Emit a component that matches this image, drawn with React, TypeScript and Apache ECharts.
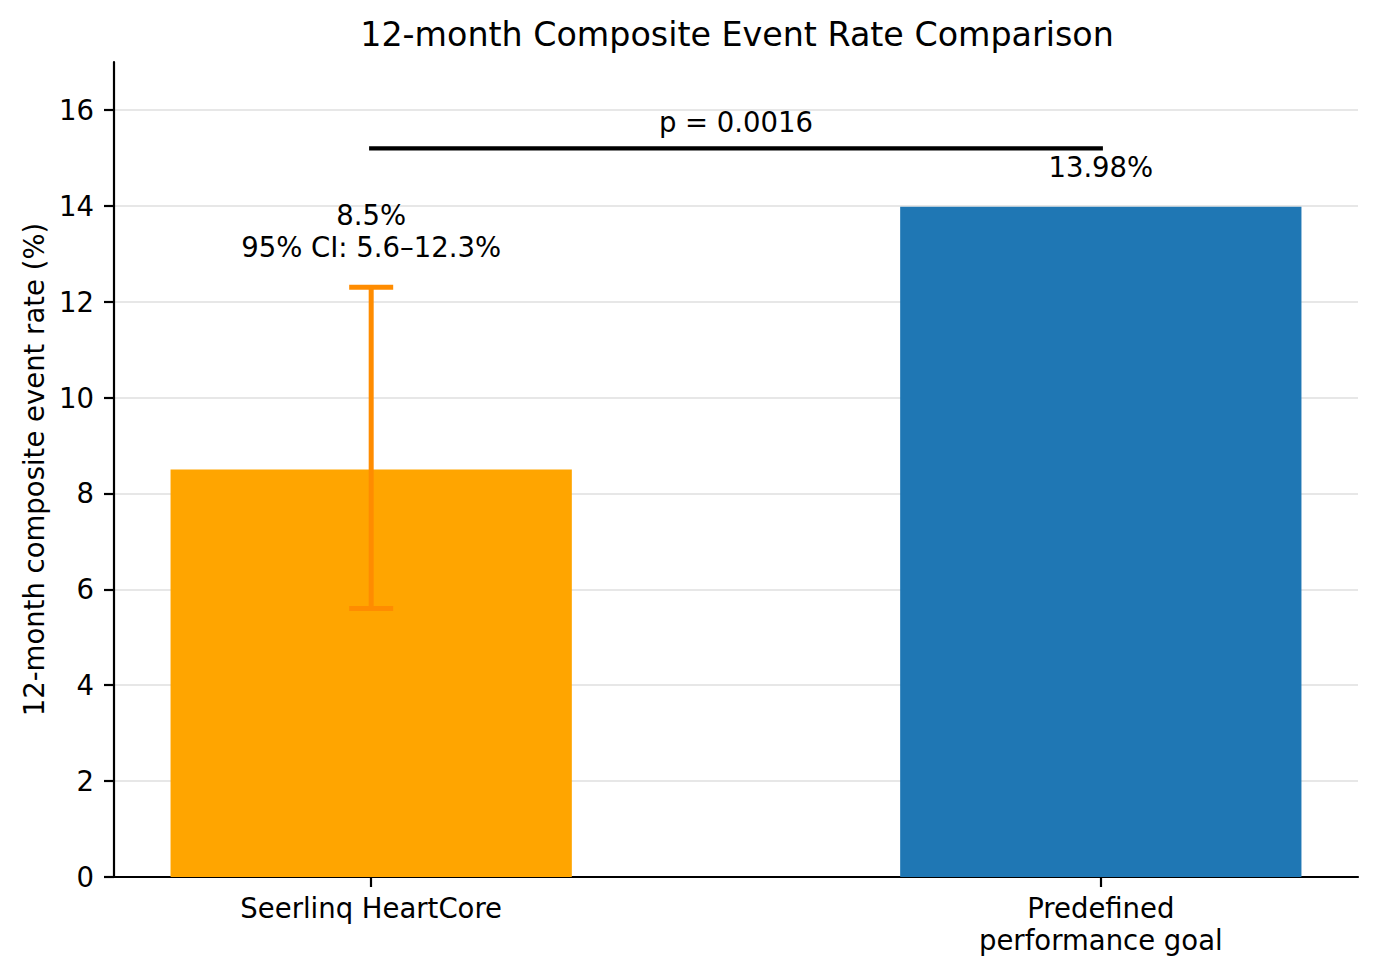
import React, { useEffect, useRef } from "react";
import * as echarts from "echarts";

// ---- data ----
const categories = ["Seerlinq HeartCore", "Predefined\nperformance goal"];
const categoryPositions = [0, 1];
const rates = [8.5, 13.98];
const barColors = ["#ffa500", "#1f77b4"];
const ciLower = [5.6];
const ciUpper = [12.3];
const ciLabels = ["8.5%\n95% CI: 5.6–12.3%"];
const goalLabels = ["13.98%"];
const pValueText = "p = 0.0016";
const sigLineY = 15.2;
const yTicks = [0, 2, 4, 6, 8, 10, 12, 14, 16];
const titleText = "12-month Composite Event Rate Comparison";
const yAxisName = "12-month composite event rate (%)";

const FONT = "DejaVu Sans";
const FS = 27.5;
const BAR_HALF = 0.275;

export default function App() {
  const ref = useRef<HTMLDivElement>(null);

  useEffect(() => {
    document.body.style.margin = "0";
    if (!ref.current) return;
    const chart = echarts.init(ref.current, undefined, { renderer: "svg" });

    const axisLineStyle = { color: "#000", width: 2.2 };

    const option: any = {
      animation: false,
      backgroundColor: "#fff",
      title: {
        text: titleText,
        left: 732,
        top: 13,
        textAlign: "center",
        textStyle: { fontSize: 33.3, fontWeight: "normal", color: "#000", fontFamily: FONT },
      },
      grid: { left: 114, right: 19, top: 62, bottom: 99, containLabel: false },
      xAxis: {
        type: "value",
        min: -0.3525,
        max: 1.3525,
        splitLine: { show: false },
        axisLine: { show: true, onZero: false, lineStyle: axisLineStyle },
        axisTick: { show: true, customValues: categoryPositions, length: 10, lineStyle: axisLineStyle },
        axisLabel: {
          show: true,
          customValues: categoryPositions,
          formatter: (v: number) => categories[Math.round(v)] ?? "",
          margin: 15,
          fontSize: FS,
          lineHeight: 32,
          color: "#000",
          fontFamily: FONT,
          align: "center",
        },
      },
      yAxis: {
        type: "value",
        min: 0,
        max: 17,
        name: yAxisName,
        nameLocation: "middle",
        nameGap: 66,
        nameRotate: 90,
        nameTextStyle: { fontSize: FS, color: "#000", fontFamily: FONT },
        axisLine: { show: true, onZero: false, lineStyle: axisLineStyle },
        axisTick: { show: true, customValues: yTicks, length: 10, lineStyle: axisLineStyle },
        axisLabel: {
          show: true,
          customValues: yTicks,
          margin: 20,
          fontSize: FS,
          color: "#000",
          fontFamily: FONT,
        },
        splitLine: { show: true, lineStyle: { color: "#e7e7e7", width: 2.2 } },
      },
      series: [
        {
          type: "custom",
          z: 2,
          data: categoryPositions.map((x, i) => [x, rates[i]]),
          encode: { x: 0, y: 1 },
          renderItem: (params: any, api: any) => {
            const x = api.value(0);
            const y = api.value(1);
            const p0 = api.coord([x - BAR_HALF, 0]);
            const p1 = api.coord([x + BAR_HALF, y]);
            return {
              type: "rect",
              shape: { x: p0[0], y: p1[1], width: p1[0] - p0[0], height: p0[1] - p1[1] },
              style: { fill: barColors[params.dataIndex] },
            };
          },
        },
        {
          type: "custom",
          z: 3,
          data: ciLower.map((lo, i) => [categoryPositions[i], lo, ciUpper[i]]),
          encode: { x: 0, y: [1, 2] },
          renderItem: (params: any, api: any) => {
            const x = api.value(0);
            const lo = api.coord([x, api.value(1)]);
            const hi = api.coord([x, api.value(2)]);
            const cap = 22;
            const st = { stroke: "#ff8c00", lineWidth: 5 };
            return {
              type: "group",
              children: [
                { type: "line", shape: { x1: lo[0], y1: lo[1], x2: hi[0], y2: hi[1] }, style: st },
                { type: "line", shape: { x1: lo[0] - cap, y1: lo[1], x2: lo[0] + cap, y2: lo[1] }, style: st },
                { type: "line", shape: { x1: hi[0] - cap, y1: hi[1], x2: hi[0] + cap, y2: hi[1] }, style: st },
              ],
            };
          },
        },
        {
          type: "custom",
          z: 4,
          data: [
            [categoryPositions[0], ciUpper[0] + 0.5, ciLabels[0]],
            [categoryPositions[1], rates[1] + 0.5, goalLabels[0]],
          ],
          encode: { x: 0, y: 1 },
          renderItem: (params: any, api: any) => {
            const p = api.coord([api.value(0), api.value(1)]);
            const txt = params.dataIndex === 0 ? ciLabels[0] : goalLabels[0];
            return {
              type: "text",
              x: p[0],
              y: p[1],
              style: {
                text: txt,
                fill: "#000",
                fontSize: FS,
                fontFamily: FONT,
                lineHeight: 32,
                align: "center",
                verticalAlign: "bottom",
              },
            };
          },
        },
        {
          type: "custom",
          z: 4,
          data: [[categoryPositions[0], categoryPositions[1], sigLineY]],
          encode: { x: [0, 1], y: 2 },
          renderItem: (params: any, api: any) => {
            const a = api.coord([api.value(0), api.value(2)]);
            const b = api.coord([api.value(1), api.value(2)]);
            const t = api.coord([(api.value(0) + api.value(1)) / 2, api.value(2) + 0.25]);
            return {
              type: "group",
              children: [
                {
                  type: "line",
                  shape: { x1: a[0], y1: a[1], x2: b[0], y2: b[1] },
                  style: { stroke: "#000", lineWidth: 4.2, lineCap: "square" },
                },
                {
                  type: "text",
                  x: t[0],
                  y: t[1],
                  style: {
                    text: pValueText,
                    fill: "#000",
                    fontSize: FS,
                    fontFamily: FONT,
                    align: "center",
                    verticalAlign: "bottom",
                  },
                },
              ],
            };
          },
        },
      ],
    };

    chart.setOption(option);
    return () => chart.dispose();
  }, []);

  return <div ref={ref} style={{ width: 1377, height: 976 }} />;
}
